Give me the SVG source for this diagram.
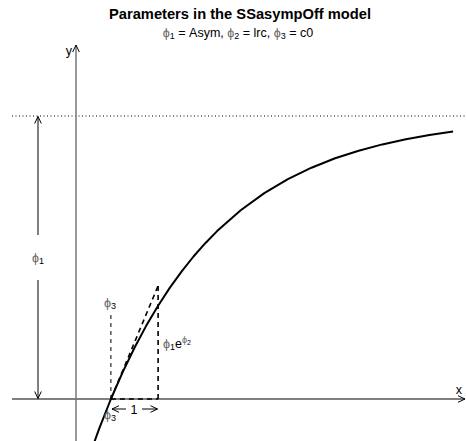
<svg xmlns="http://www.w3.org/2000/svg" width="466" height="441" viewBox="0 0 466 441">
<style>
text{font-family:"Liberation Sans",Arial,sans-serif;fill:#000}
.title{font-size:14.7px;font-weight:bold}
.sub{font-size:12.5px}
.lab{font-size:12.5px}
.phi{fill:#666}
.ax{stroke:#000;stroke-width:1;fill:none}
.dash{stroke:#000;stroke-width:1;stroke-dasharray:4 4;fill:none}
.dashb{stroke:#000;stroke-width:1.6;stroke-dasharray:5 4;fill:none}
</style>
<defs>
<marker id="ah" viewBox="-8 -4 9 8" refX="0" refY="0" markerWidth="9" markerHeight="8" markerUnits="userSpaceOnUse" orient="auto-start-reverse">
<path d="M-7,-3.3 L0,0 L-7,3.3" fill="none" stroke="#000" stroke-width="1"/>
</marker>
</defs>
<rect width="466" height="441" fill="#fff"/>
<g id="title">
<text class="title" x="240" y="19" text-anchor="middle">Parameters in the SSasympOff model</text>
<text class="sub" x="238" y="37" text-anchor="middle"><tspan class="phi">ϕ</tspan><tspan font-size="9" dy="2">1</tspan><tspan dy="-2"> = Asym, </tspan><tspan class="phi">ϕ</tspan><tspan font-size="9" dy="2">2</tspan><tspan dy="-2"> = lrc, </tspan><tspan class="phi">ϕ</tspan><tspan font-size="9" dy="2">3</tspan><tspan dy="-2"> = c0</tspan></text>
</g>
<g id="connectors">
<line id="asymptote" x1="12" y1="116" x2="466" y2="116" stroke="#000" stroke-width="1" stroke-dasharray="1 2.5"/>
<line id="x-axis" class="ax" x1="12" y1="399" x2="465" y2="399" marker-end="url(#ah)"/>
<line id="y-axis" x1="76" y1="441" x2="76" y2="45" stroke="#777" stroke-width="1.5" fill="none" marker-end="url(#ah)"/>
<line class="ax" x1="38" y1="235" x2="38" y2="116.5" marker-end="url(#ah)"/>
<line class="ax" x1="38" y1="280" x2="38" y2="398.5" marker-end="url(#ah)"/>
<line class="dash" x1="110.9" y1="399" x2="110.9" y2="312"/>
<line class="dashb" x1="158.1" y1="399" x2="158.1" y2="286"/>
<line class="dashb" x1="110.9" y1="399" x2="158.1" y2="399"/>
<line class="dashb" x1="110.9" y1="399" x2="158.1" y2="285.8"/>
<line class="ax" x1="126" y1="409" x2="112" y2="409" marker-end="url(#ah)"/>
<line class="ax" x1="142" y1="409" x2="157.5" y2="409" marker-end="url(#ah)"/>
<polyline id="curve" fill="none" stroke="#000" stroke-width="2" stroke-linejoin="round" points="87.3,461.7 99.1,428.8 110.9,399 122.7,372.1 134.5,347.7 146.3,325.6 158.1,305.7 169.9,287.6 181.7,271.3 193.5,256.5 205.3,243.2 217.1,231.1 240.7,210.2 264.3,193.1 287.9,179.1 311.5,167.7 335.1,158.3 358.7,150.7 382.3,144.4 405.9,139.2 429.5,135.0 453.1,131.6"/>
</g>
<g id="labels">
<text class="lab" x="72" y="55" text-anchor="end">y</text>
<text class="lab" x="462" y="394" text-anchor="end">x</text>
<text class="lab" x="32" y="262"><tspan class="phi">ϕ</tspan><tspan font-size="9" dy="2">1</tspan></text>
<text class="lab" x="104" y="307"><tspan class="phi">ϕ</tspan><tspan font-size="9" dy="2">3</tspan></text>
<text class="lab" x="104" y="419"><tspan class="phi">ϕ</tspan><tspan font-size="9" dy="2">3</tspan></text>
<text class="lab" x="134" y="414" text-anchor="middle">1</text>
<text class="lab" x="163" y="348"><tspan class="phi">ϕ</tspan><tspan font-size="9" dy="2">1</tspan><tspan dy="-2">e</tspan><tspan class="phi" font-size="9" dy="-5">ϕ</tspan><tspan font-size="7" dy="2">2</tspan></text>
</g>
</svg>
